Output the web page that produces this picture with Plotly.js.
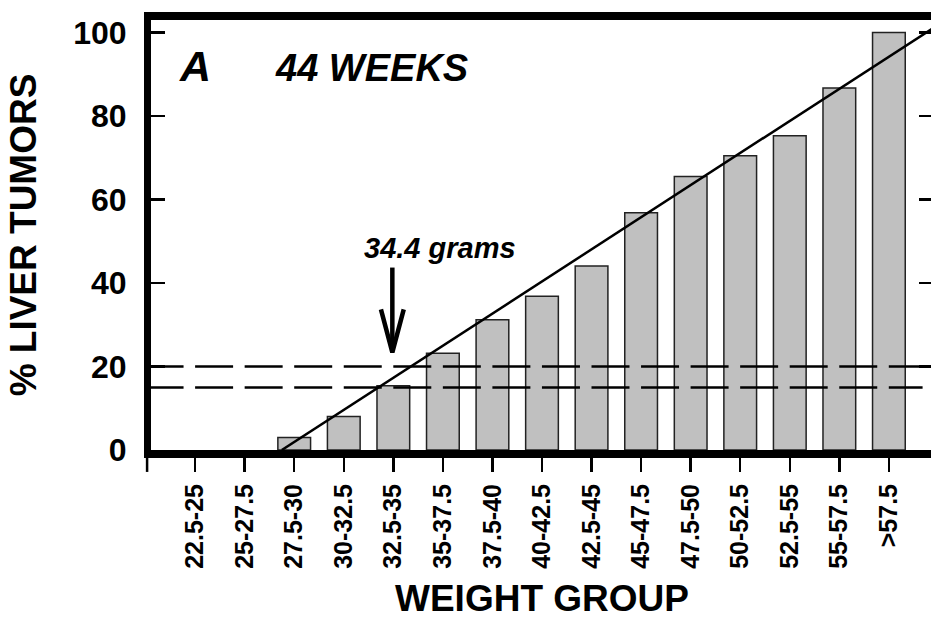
<!DOCTYPE html>
<html>
<head>
<meta charset="utf-8">
<script src="https://cdn.plot.ly/plotly-3.0.1.min.js"></script>
<style>
  html, body { margin: 0; padding: 0; overflow: hidden; background: #fff; }
  #chart { width: 945px; height: 639px; }
</style>
</head>
<body>
<div id="chart"></div>
<script>
// Weight group categories and % liver tumors at 44 weeks
const weightGroups = ["22.5-25", "25-27.5", "27.5-30", "30-32.5", "32.5-35", "35-37.5",
  "37.5-40", "40-42.5", "42.5-45", "45-47.5", "47.5-50", "50-52.5", "52.5-55", "55-57.5", ">57.5"];
const tumorPct = [0, 0, 3, 8, 15.4, 23.2, 31.2, 36.8, 44.1, 56.8, 65.5, 70.5, 75.3, 86.7, 100];

// Fitted regression line (category index, %)
const fitX = [1.75, 15];
const fitY = [0, 101.9];

// Dashed reference levels (%)
const refLevels = [15, 20];

// Arrow marking 34.4 grams (category index position, % values)
const arrowX = 3.98;
const arrowTop = 43.7;
const arrowTip = 23.4;
const arrowLabel = "34.4 grams";

const yTicks = [0, 20, 40, 60, 80, 100];

const FONT = "Liberation Sans, Arial, sans-serif";
const idx = weightGroups.map((_, i) => i);

const bars = {
  type: "bar",
  x: idx,
  y: tumorPct,
  marker: {
    color: "#c0c0c0",
    line: { color: "#222", width: tumorPct.map(v => (v > 0 ? 1.5 : 0)) }
  },
  hoverinfo: "skip"
};

const fit = {
  type: "scatter",
  mode: "lines",
  x: fitX,
  y: fitY,
  line: { color: "#000", width: 2.5 },
  hoverinfo: "skip"
};

const arrowShaft = {
  type: "scatter",
  mode: "lines",
  x: [arrowX, arrowX],
  y: [arrowTop, arrowTip + 1],
  line: { color: "#000", width: 4.5 },
  hoverinfo: "skip"
};
const arrowHead = {
  type: "scatter",
  mode: "lines",
  x: [arrowX - 0.23, arrowX, arrowX + 0.23],
  y: [arrowTip + 10.3, arrowTip, arrowTip + 10.3],
  line: { color: "#000", width: 4.5 },
  hoverinfo: "skip"
};

const shapes = refLevels.map(v => ({
  type: "line", xref: "x", yref: "y",
  x0: -1, x1: 14.68, y0: v, y1: v,
  line: { color: "#000", width: 2.5, dash: "38px,11.55px" }
}));
// first bottom tick under the left frame
shapes.push({
  type: "line", xref: "paper", yref: "paper",
  x0: -0.005, x1: -0.005, y0: 0, y1: -0.051,
  line: { color: "#000", width: 2.5 }
});

const layout = {
  width: 945,
  height: 639,
  margin: { l: 151, r: 12, t: 20, b: 189 },
  paper_bgcolor: "#fff",
  plot_bgcolor: "#fff",
  showlegend: false,
  bargap: 0.34,
  font: { family: FONT, color: "#000" },
  xaxis: {
    type: "linear",
    range: [-0.89, 14.89],
    tickmode: "array",
    tickvals: idx,
    ticktext: weightGroups,
    tickangle: -90,
    ticks: "outside",
    ticklen: 14,
    tickwidth: 2.5,
    tickcolor: "#000",
    ticklabelstandoff: 2,
    showline: true,
    linewidth: 8,
    linecolor: "#000",
    mirror: true,
    showgrid: false,
    zeroline: false,
    tickfont: { family: FONT, size: 25, weight: "bold", color: "#000" },
    title: { text: "WEIGHT GROUP", font: { family: FONT, size: 37, weight: "bold", color: "#000" }, standoff: 20 }
  },
  yaxis: {
    range: [0, 103],
    tickmode: "array",
    tickvals: yTicks,
    ticktext: yTicks.map(String),
    ticks: "inside",
    ticklen: 14,
    tickwidth: 2.5,
    tickcolor: "#000",
    ticklabelstandoff: 11,
    showline: true,
    linewidth: 7,
    linecolor: "#000",
    mirror: "ticks",
    showgrid: false,
    zeroline: false,
    tickfont: { family: FONT, size: 32, weight: "bold", color: "#000" },
    title: { text: "% LIVER TUMORS", font: { family: FONT, size: 37, weight: "bold", color: "#000" }, standoff: 28 }
  },
  shapes: shapes,
  annotations: [
    { x: 0, y: 92, xref: "x", yref: "y", text: "A", showarrow: false,
      font: { family: FONT, size: 43, weight: "bold", style: "italic", color: "#000" } },
    { x: 3.56, y: 91.5, xref: "x", yref: "y", text: "44 WEEKS", showarrow: false,
      font: { family: FONT, size: 38, weight: "bold", style: "italic", color: "#000" } },
    { x: 4.95, y: 48.5, xref: "x", yref: "y", text: arrowLabel, showarrow: false,
      font: { family: FONT, size: 29, weight: "bold", style: "italic", color: "#000" } }
  ]
};

Plotly.newPlot("chart", [bars, fit, arrowShaft, arrowHead], layout, { displayModeBar: false, staticPlot: true });
</script>
</body>
</html>
